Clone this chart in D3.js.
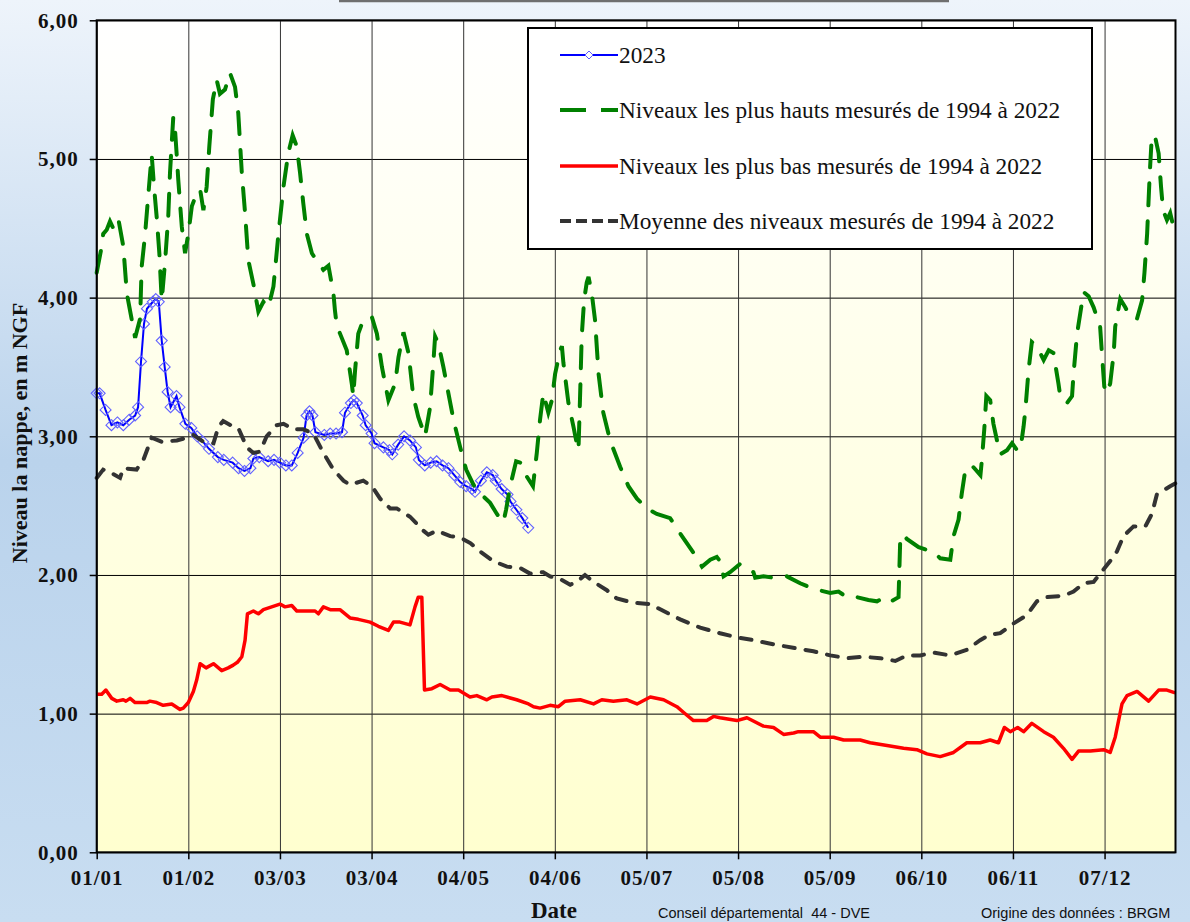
<!DOCTYPE html>
<html>
<head>
<meta charset="utf-8">
<script src="https://cdn.jsdelivr.net/npm/d3@7"></script>
<style>
    body { margin: 0; }
    svg { display: block; }
</style>
</head>
<body>
<div id="chart"></div>
<script>
// Axe des dates : jour de l'annee (annee bissextile, graduation tous les 31 jours)
const xTickDays = [0, 31, 62, 93, 124, 155, 186, 217, 248, 279, 310, 341];
const xTickLabels = ["01/01", "01/02", "03/03", "03/04", "04/05", "04/06",
    "05/07", "05/08", "05/09", "06/10", "06/11", "07/12"];
const yTicks = [0, 1, 2, 3, 4, 5, 6];

// [jour, niveau en m NGF]
const serie2023 = [
    [0, 3.31], [1, 3.31], [3, 3.19], [5, 3.08], [7, 3.10], [9, 3.08], [11, 3.12], [13, 3.15],
    [14, 3.21], [15, 3.54], [16, 3.81], [17, 3.92], [19, 3.97], [20, 3.99], [21, 3.97],
    [22, 3.69], [23, 3.50], [24, 3.32], [25, 3.21], [27, 3.29], [28, 3.21], [30, 3.09],
    [32, 3.06], [34, 3.00], [36, 2.96], [38, 2.91], [41, 2.85], [43, 2.83], [46, 2.81],
    [48, 2.77], [50, 2.75], [52, 2.77], [53, 2.84], [55, 2.85], [58, 2.82], [60, 2.83],
    [62, 2.81], [64, 2.79], [66, 2.79], [68, 2.88], [70, 2.99], [71, 3.15], [72, 3.18],
    [73, 3.15], [74, 3.03], [77, 3.01], [79, 3.02], [81, 3.02], [83, 3.03], [84, 3.17],
    [86, 3.24], [87, 3.26], [88, 3.24], [90, 3.15], [91, 3.08], [93, 3.02], [94, 2.95],
    [97, 2.92], [99, 2.90], [100, 2.87], [102, 2.94], [104, 3.00], [106, 2.97], [108, 2.92],
    [109, 2.83], [111, 2.79], [113, 2.81], [115, 2.82], [117, 2.79], [119, 2.77], [121, 2.72],
    [123, 2.67], [125, 2.64], [127, 2.62], [128, 2.60], [130, 2.68], [132, 2.74], [134, 2.72],
    [135, 2.68], [137, 2.62], [139, 2.58], [140, 2.53], [142, 2.47], [144, 2.41], [146, 2.34]
];

const serieHauts = [
    [0, 4.18], [1.7, 4.37], [2.2, 4.46], [3.4, 4.49], [4.5, 4.55], [5.6, 4.50], [7.3, 4.57],
    [9.0, 4.37], [10.2, 4.03], [13.0, 3.71], [14.7, 3.85], [15.2, 4.22], [16.3, 4.44],
    [17.5, 4.75], [18.6, 5.03], [19.4, 4.80], [20.3, 4.58], [21.2, 4.32], [22.0, 3.98],
    [23.1, 4.25], [24.2, 4.58], [24.8, 4.90], [25.9, 5.30], [26.5, 5.21], [27.1, 5.02],
    [27.6, 4.85], [28.8, 4.51], [29.9, 4.32], [31.0, 4.46], [32.2, 4.66], [33.8, 4.75],
    [35.0, 4.78], [36.1, 4.63], [37.2, 4.80], [38.1, 5.09], [39.3, 5.43], [40.6, 5.57],
    [41.7, 5.47], [43.4, 5.50], [45.1, 5.62], [46.8, 5.52], [47.9, 5.33], [49.1, 4.90],
    [50.2, 4.61], [51.3, 4.27], [53.0, 4.10], [54.7, 3.90], [56.4, 3.97], [58.1, 3.93],
    [59.8, 4.08], [61.5, 4.46], [63.2, 4.80], [64.8, 5.04], [66.3, 5.17], [67.7, 5.09],
    [68.8, 4.90], [69.9, 4.68], [71.1, 4.46], [72.8, 4.32], [75.0, 4.25], [76.7, 4.20],
    [78.4, 4.23], [80.1, 4.03], [80.6, 3.91], [81.2, 3.80], [84.6, 3.62], [86.3, 3.38],
    [86.8, 3.29], [87.4, 3.47], [88.5, 3.74], [90.2, 3.84], [93.1, 3.86], [94.8, 3.74],
    [96.5, 3.50], [98.7, 3.26], [101.0, 3.38], [102.1, 3.57], [103.8, 3.75], [105.5, 3.60],
    [107.1, 3.29], [108.8, 3.14], [111.1, 3.00], [112.8, 3.21], [113.9, 3.53], [114.5, 3.72],
    [115.6, 3.67], [117.3, 3.50], [119.0, 3.31], [120.7, 3.12], [123.0, 2.92], [125.0, 2.76],
    [127.5, 2.65], [129.7, 2.59], [133.1, 2.52], [135.4, 2.44], [137.6, 2.38], [138.5, 2.47],
    [139.9, 2.64], [141.9, 2.82], [143.3, 2.81], [145.5, 2.71], [147.6, 2.64], [148.9, 2.88],
    [150.0, 3.12], [151.1, 3.31], [152.8, 3.17], [154.0, 3.26], [155.1, 3.45], [156.8, 3.62],
    [157.4, 3.65], [157.9, 3.53], [159.6, 3.24], [161.3, 3.07], [162.4, 2.95], [163.0, 2.90],
    [163.6, 3.33], [164.1, 3.72], [164.9, 3.98], [165.8, 4.11], [166.4, 4.15], [167.5, 4.03],
    [168.6, 3.84], [169.8, 3.45], [171.4, 3.17], [173.7, 2.97], [177.1, 2.78], [179.9, 2.64],
    [182.8, 2.55], [186.1, 2.48], [189.5, 2.44], [194.0, 2.41], [197.4, 2.30], [201.9, 2.16],
    [204.8, 2.06], [207.6, 2.11], [209.8, 2.13], [210.9, 2.10], [212.1, 1.99], [214.3, 2.02],
    [217.7, 2.08], [222.2, 2.02], [222.8, 1.98], [225.6, 1.99], [229.0, 1.98], [233.5, 1.99],
    [238.0, 1.94], [242.5, 1.90], [248.2, 1.87], [251.0, 1.88], [253.8, 1.84], [257.2, 1.84],
    [261.1, 1.82], [264.0, 1.81], [266.8, 1.84], [268.8, 1.81], [271.3, 1.84], [271.9, 2.28],
    [273.0, 2.29], [274.1, 2.26], [278.1, 2.20], [280.9, 2.18], [283.1, 2.17], [285.4, 2.12],
    [288.8, 2.11], [289.9, 2.28], [291.6, 2.40], [292.7, 2.59], [293.9, 2.76], [296.1, 2.79],
    [299.0, 2.72], [299.5, 2.83], [300.3, 3.05], [301.0, 3.29], [302.3, 3.26], [303.4, 3.09],
    [304.6, 2.97], [305.7, 2.87], [308.0, 2.90], [309.7, 2.95], [311.4, 2.90], [312.5, 2.90],
    [313.6, 3.07], [314.2, 3.19], [315.3, 3.48], [316.4, 3.68], [318.1, 3.65], [320.4, 3.55],
    [322.1, 3.62], [323.7, 3.60], [325.4, 3.38], [326.0, 3.29], [328.3, 3.24], [330.0, 3.29],
    [330.5, 3.45], [331.7, 3.74], [333.9, 4.04], [335.6, 4.01], [337.3, 3.93], [339.5, 3.79],
    [340.1, 3.60], [340.9, 3.36], [341.6, 3.31], [342.9, 3.38], [344.1, 3.60], [344.6, 3.79],
    [346.3, 3.99], [348.0, 3.93], [349.7, 3.86], [352.0, 3.85], [353.7, 3.98], [354.5, 4.18],
    [355.4, 4.46], [356.3, 4.90], [357.0, 5.17], [358.2, 5.15], [359.3, 5.04], [360.1, 4.80],
    [360.8, 4.63], [362.1, 4.56], [363.2, 4.61], [364.3, 4.51], [364.9, 4.46]
];

const serieBas = [
    [0, 1.14], [1.7, 1.14], [3.1, 1.17], [5.1, 1.11], [6.8, 1.09], [9.0, 1.10], [9.9, 1.09],
    [11.3, 1.11], [13.0, 1.08], [16.9, 1.08], [18.0, 1.09], [20.3, 1.08], [22.5, 1.06],
    [25.4, 1.07], [28.2, 1.03], [29.3, 1.04], [31.0, 1.08], [32.7, 1.16], [33.8, 1.24],
    [35.0, 1.36], [37.0, 1.33], [39.5, 1.36], [42.3, 1.31], [44.5, 1.33], [46.2, 1.35],
    [47.6, 1.37], [49.1, 1.41], [50.2, 1.53], [51.0, 1.72], [53.0, 1.74], [54.7, 1.72],
    [56.4, 1.75], [59.2, 1.77], [62.0, 1.79], [63.7, 1.77], [66.0, 1.78], [67.7, 1.74],
    [73.9, 1.74], [75.0, 1.72], [76.7, 1.77], [79.0, 1.75], [82.3, 1.75], [85.7, 1.69],
    [88.5, 1.68], [92.5, 1.66], [95.3, 1.63], [98.7, 1.60], [100.4, 1.66], [102.6, 1.66],
    [106.0, 1.64], [107.7, 1.77], [108.8, 1.84], [110.0, 1.84], [110.9, 1.17], [113.4, 1.18],
    [116.2, 1.21], [119.6, 1.17], [122.4, 1.17], [126.3, 1.12], [128.6, 1.13], [132.0, 1.10],
    [133.7, 1.12], [137.1, 1.13], [142.1, 1.10], [146.1, 1.07], [147.8, 1.05], [150.0, 1.04],
    [153.4, 1.06], [156.2, 1.05], [158.5, 1.09], [163.6, 1.10], [168.1, 1.07], [170.9, 1.10],
    [174.8, 1.09], [179.4, 1.10], [182.8, 1.07], [187.3, 1.12], [191.8, 1.10], [196.3, 1.05],
    [198.5, 1.01], [201.9, 0.95], [206.4, 0.95], [208.7, 0.98], [210.9, 0.97], [216.6, 0.95],
    [220.0, 0.97], [225.6, 0.91], [229.0, 0.90], [232.4, 0.85], [235.8, 0.86], [237.4, 0.87],
    [242.5, 0.87], [244.8, 0.83], [249.3, 0.83], [252.7, 0.81], [258.3, 0.81], [261.7, 0.79],
    [267.4, 0.77], [273.0, 0.75], [277.5, 0.74], [280.9, 0.71], [285.4, 0.69], [289.9, 0.72],
    [294.4, 0.79], [298.9, 0.79], [302.3, 0.81], [305.1, 0.79], [307.1, 0.90], [309.1, 0.87],
    [311.6, 0.90], [313.6, 0.87], [316.4, 0.93], [320.4, 0.87], [323.7, 0.83], [327.1, 0.75],
    [330.0, 0.67], [332.2, 0.73], [336.2, 0.73], [340.7, 0.74], [342.9, 0.72], [344.6, 0.83],
    [346.9, 1.07], [348.6, 1.13], [352.0, 1.16], [355.9, 1.09], [359.3, 1.17], [362.1, 1.17],
    [364.9, 1.15]
];

const serieMoyenne = [
    [0, 2.70], [2.2, 2.76], [4.5, 2.74], [7.9, 2.70], [9.0, 2.77], [13.5, 2.76], [15.8, 2.83],
    [18.6, 2.99], [22.0, 2.96], [27.1, 2.97], [30.5, 2.99], [32.7, 3.01], [36.1, 2.96],
    [39.5, 2.95], [41.2, 3.07], [42.8, 3.11], [46.2, 3.07], [47.9, 3.06], [50.8, 2.92],
    [53.0, 2.88], [55.3, 2.89], [57.5, 3.00], [60.9, 3.08], [63.2, 3.09], [66.5, 3.05],
    [69.9, 3.05], [73.3, 3.02], [76.7, 2.88], [80.1, 2.76], [83.5, 2.68], [85.7, 2.65],
    [90.2, 2.68], [93.1, 2.64], [95.9, 2.55], [99.3, 2.48], [101.5, 2.48], [106.0, 2.42],
    [110.5, 2.32], [112.2, 2.29], [115.1, 2.32], [119.6, 2.28], [123.0, 2.27], [126.4, 2.23],
    [129.7, 2.17], [134.2, 2.10], [138.8, 2.06], [143.3, 2.05], [146.6, 2.01], [151.1, 2.02],
    [153.4, 1.99], [156.8, 1.97], [160.2, 1.93], [162.4, 1.95], [165.2, 2.00], [168.1, 1.95],
    [172.6, 1.89], [176.0, 1.83], [181.6, 1.80], [187.3, 1.79], [191.8, 1.74], [197.4, 1.68],
    [204.2, 1.62], [210.9, 1.58], [216.6, 1.55], [222.2, 1.53], [229.0, 1.50], [236.9, 1.47],
    [242.5, 1.45], [248.2, 1.42], [253.8, 1.40], [259.4, 1.41], [265.1, 1.40], [270.2, 1.38],
    [274.1, 1.42], [278.6, 1.42], [283.1, 1.44], [288.8, 1.42], [294.4, 1.46], [298.9, 1.53],
    [302.3, 1.57], [305.7, 1.58], [310.2, 1.65], [314.7, 1.71], [318.1, 1.81], [321.5, 1.84],
    [327.1, 1.85], [330.5, 1.88], [333.9, 1.94], [337.3, 1.95], [339.5, 2.01], [342.9, 2.10],
    [345.2, 2.17], [347.4, 2.28], [350.8, 2.35], [354.8, 2.35], [357.0, 2.44], [358.7, 2.58],
    [363.2, 2.64], [364.9, 2.66]
];

const seriesNames = ["2023",
    "Niveaux les plus hauts mesurés de 1994 à 2022",
    "Niveaux les plus bas mesurés de 1994 à 2022",
    "Moyenne des niveaux mesurés de 1994 à 2022"];

const totalWidth = 1190;
const totalHeight = 922;
const margin = {top: 20.3, left: 96.7};
const width = 1078.8;
const height = 832;

const svg = d3.select("#chart")
    .append("svg")
    .attr("width", totalWidth)
    .attr("height", totalHeight);

// Degrades de fond
const defs = svg.append("defs");
const bgGrad = defs.append("linearGradient")
    .attr("id", "bgGrad")
    .attr("x1", 0).attr("y1", 0).attr("x2", 0).attr("y2", 1);
bgGrad.append("stop").attr("offset", "0%").attr("stop-color", "#eef4fb");
bgGrad.append("stop").attr("offset", "50%").attr("stop-color", "#bad3ec");
bgGrad.append("stop").attr("offset", "100%").attr("stop-color", "#c8ddf1");

const plotGrad = defs.append("linearGradient")
    .attr("id", "plotGrad")
    .attr("x1", 0).attr("y1", 0).attr("x2", 0).attr("y2", 1);
plotGrad.append("stop").attr("offset", "0%").attr("stop-color", "#ffffff");
plotGrad.append("stop").attr("offset", "100%").attr("stop-color", "#ffffcf");

svg.append("rect")
    .attr("width", totalWidth)
    .attr("height", totalHeight)
    .attr("fill", "url(#bgGrad)");

// Bas du cadre du titre (coupe en haut de l'image)
svg.append("line")
    .attr("x1", 339)
    .attr("x2", 949)
    .attr("y1", 1)
    .attr("y2", 1)
    .attr("stroke", "#6f6f6f")
    .attr("stroke-width", 2.5);

const g = svg.append("g")
    .attr("transform", `translate(${margin.left},${margin.top})`);

const x = d3.scaleLinear()
    .domain([0, 365])
    .range([0, width]);

const y = d3.scaleLinear()
    .domain([0, 6])
    .range([height, 0]);

g.append("rect")
    .attr("width", width)
    .attr("height", height)
    .attr("fill", "url(#plotGrad)");

// Quadrillage
g.append("g")
    .attr("class", "grid")
    .call(d3.axisLeft(y).tickValues(yTicks).tickSize(-width).tickFormat(""))
    .call(sel => sel.select(".domain").remove())
    .selectAll("line")
    .attr("stroke", "#000")
    .attr("stroke-width", 1);

g.append("g")
    .attr("class", "grid")
    .attr("transform", `translate(0,${height})`)
    .call(d3.axisBottom(x).tickValues(xTickDays).tickSize(-height).tickFormat(""))
    .call(sel => sel.select(".domain").remove())
    .selectAll("line")
    .attr("stroke", "#333")
    .attr("stroke-width", 1);

// Axes
const yAxis = g.append("g")
    .call(d3.axisLeft(y)
        .tickValues(yTicks)
        .tickSize(7)
        .tickPadding(11)
        .tickFormat(d => d3.format(".2f")(d).replace(".", ",")));

const xAxis = g.append("g")
    .attr("transform", `translate(0,${height})`)
    .call(d3.axisBottom(x)
        .tickValues(xTickDays)
        .tickSize(7)
        .tickPadding(11)
        .tickFormat((d, i) => xTickLabels[i]));

[yAxis, xAxis].forEach(axis => {
    axis.select(".domain").remove();
    axis.selectAll("line").attr("stroke", "#000").attr("stroke-width", 1.5);
    axis.selectAll("text")
        .attr("fill", "#111")
        .style("font-family", "'Liberation Serif', 'Times New Roman', serif")
        .style("font-weight", "bold")
        .style("font-size", "21px")
        .style("letter-spacing", "1px");
});

// Courbes
const line = d3.line()
    .x(d => x(d[0]))
    .y(d => y(d[1]));

g.append("path")
    .datum(serie2023)
    .attr("d", line)
    .attr("fill", "none")
    .attr("stroke", "#0000ff")
    .attr("stroke-width", 2);

const diamond = "M0,-5.5L5.5,0L0,5.5L-5.5,0Z";

g.selectAll(".marker")
    .data(serie2023)
    .join("path")
    .attr("class", "marker")
    .attr("d", diamond)
    .attr("transform", d => `translate(${x(d[0])},${y(d[1])})`)
    .attr("fill", "none")
    .attr("stroke", "#6262ff")
    .attr("stroke-width", 1.1);

g.append("path")
    .datum(serieHauts)
    .attr("d", line)
    .attr("fill", "none")
    .attr("stroke", "#008000")
    .attr("stroke-width", 4)
    .attr("stroke-linecap", "round")
    .attr("stroke-dasharray", "22,16");

g.append("path")
    .datum(serieBas)
    .attr("d", line)
    .attr("fill", "none")
    .attr("stroke", "#ff0000")
    .attr("stroke-width", 3.5)
    .attr("stroke-linejoin", "round");

g.append("path")
    .datum(serieMoyenne)
    .attr("d", line)
    .attr("fill", "none")
    .attr("stroke", "#333333")
    .attr("stroke-width", 4)
    .attr("stroke-linecap", "round")
    .attr("stroke-dasharray", "11,11");

// Cadre de la zone de tracé
g.append("rect")
    .attr("width", width)
    .attr("height", height)
    .attr("fill", "none")
    .attr("stroke", "#000")
    .attr("stroke-width", 2);

// Légende
const legend = svg.append("g").attr("transform", "translate(528,28)");

legend.append("rect")
    .attr("width", 564)
    .attr("height", 221)
    .attr("fill", "#fff")
    .attr("stroke", "#000")
    .attr("stroke-width", 2);

const legendRows = [27, 82, 138, 193];
const legendStyles = [
    {stroke: "#0000ff", width: 2, dash: null},
    {stroke: "#008000", width: 4, dash: "26,15"},
    {stroke: "#ff0000", width: 3.5, dash: null},
    {stroke: "#333333", width: 4, dash: "11,5"}
];

seriesNames.forEach((name, i) => {
    const row = legend.append("g").attr("transform", `translate(0,${legendRows[i]})`);
    row.append("line")
        .attr("x1", 32)
        .attr("x2", 90)
        .attr("stroke", legendStyles[i].stroke)
        .attr("stroke-width", legendStyles[i].width)
        .attr("stroke-dasharray", legendStyles[i].dash);
    if (i === 0) {
        row.append("path")
            .attr("d", "M0,-4L4,0L0,4L-4,0Z")
            .attr("transform", "translate(61,0)")
            .attr("fill", "#fff")
            .attr("stroke", "#5c5cff");
    }
    row.append("text")
        .attr("x", 91)
        .attr("dy", "0.35em")
        .style("font-family", "'Liberation Serif', 'Times New Roman', serif")
        .style("font-size", "23.3px")
        .attr("fill", "#111")
        .text(name);
});

// Titres et mentions
svg.append("text")
    .attr("transform", "translate(27,433) rotate(-90)")
    .attr("text-anchor", "middle")
    .style("font-family", "'Liberation Serif', 'Times New Roman', serif")
    .style("font-weight", "bold")
    .style("font-size", "22px")
    .attr("fill", "#111")
    .text("Niveau la nappe, en m NGF");

svg.append("text")
    .attr("x", 554)
    .attr("y", 918)
    .attr("text-anchor", "middle")
    .style("font-family", "'Liberation Serif', 'Times New Roman', serif")
    .style("font-weight", "bold")
    .style("font-size", "23px")
    .attr("fill", "#111")
    .text("Date");

svg.append("text")
    .attr("x", 658)
    .attr("y", 918)
    .style("font-family", "'Liberation Sans', Arial, sans-serif")
    .style("font-size", "14.5px")
    .style("white-space", "pre")
    .attr("fill", "#111")
    .text("Conseil départemental  44 - DVE");

svg.append("text")
    .attr("x", 981)
    .attr("y", 918)
    .style("font-family", "'Liberation Sans', Arial, sans-serif")
    .style("font-size", "14.5px")
    .attr("fill", "#111")
    .text("Origine des données : BRGM");
</script>
</body>
</html>
